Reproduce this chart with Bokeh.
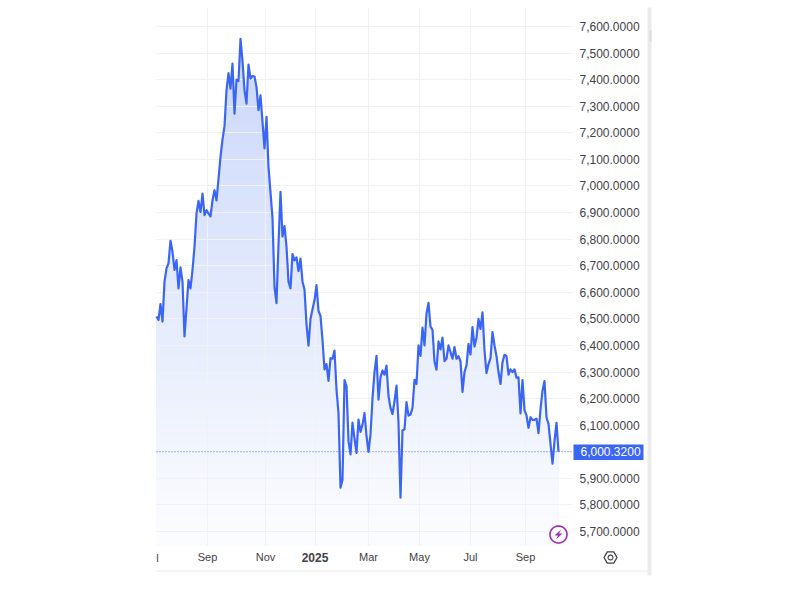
import math
from bokeh.embed import file_html
from bokeh.models import (BoxAnnotation, ColumnDataSource, FixedTicker, Label, LinearAxis,
                          NumeralTickFormatter, PolyAnnotation, Range1d)
from bokeh.plotting import figure
from bokeh.resources import INLINE

values = [
    6509, 6496, 6556, 6490, 6640, 6690, 6709, 6794, 6752, 6684, 6721, 6615, 6694, 6640, 6434, 6540,
    6646, 6615, 6684, 6771, 6896, 6944, 6902, 6971, 6890, 6909, 6896, 6886, 6946, 6984, 6946, 7027,
    7110, 7175, 7225, 7360, 7425, 7366, 7460, 7272, 7400, 7395, 7554, 7470, 7360, 7310, 7457, 7404,
    7414, 7412, 7372, 7285, 7341, 7241, 7141, 7260, 7072, 6975, 6880, 6620, 6559, 6780, 6978, 6810,
    6849, 6771, 6640, 6615, 6744, 6720, 6731, 6680, 6727, 6640, 6610, 6480, 6399, 6500, 6536, 6570,
    6627, 6530, 6511, 6420, 6310, 6330, 6267, 6352, 6350, 6381, 6234, 6145, 5865, 5895, 6270, 6246,
    6040, 5990, 6110, 6050, 5996, 6121, 6075, 6102, 6146, 6060, 6000, 6065, 6200, 6300, 6361, 6196,
    6280, 6306, 6290, 6324, 6210, 6165, 6142, 6190, 6249, 6110, 5827, 6081, 6084, 6187, 6136, 6140,
    6165, 6271, 6255, 6400, 6361, 6467, 6400, 6520, 6560, 6471, 6459, 6340, 6309, 6415, 6385, 6430,
    6341, 6350, 6400, 6375, 6350, 6394, 6350, 6360, 6340, 6225, 6300, 6325, 6406, 6366, 6469, 6396,
    6430, 6500, 6462, 6525, 6381, 6296, 6330, 6352, 6450, 6400, 6360, 6300, 6255, 6337, 6365, 6360,
    6290, 6310, 6300, 6310, 6279, 6280, 6144, 6270, 6156, 6137, 6090, 6130, 6120, 6120, 6125, 6070,
    6160, 6230, 6266, 6130, 6105, 6030, 5955, 6040, 6109, 6000,
]
sessions = list(range(len(values)))
last_price = 6000.32
last_price_label = "6,000.3200"
y_ticks = [5700, 5800, 5900, 6000, 6100, 6200, 6300, 6400, 6500, 6600, 6700, 6800, 6900,
           7000, 7100, 7200, 7300, 7400, 7500, 7600]
month_ticks = [25.5, 54.5, 79.25, 106, 131.5, 157, 184.5]
month_labels = ["Sep", "Nov", "", "Mar", "May", "Jul", "Sep"]
year_tick = 79.25
year_label = "2025"
cut_tick = 0.5
cut_label = "l"

W, H = 660, 582
PX_PER_SESSION = 2.0
PX_PER_UNIT = 0.2658
LEFT_PX, RIGHT_PX, TOP_PX, FLOOR_PX = 156, 572, 7, 545

def to_x(px):
    return (px - LEFT_PX) / PX_PER_SESSION

def to_y(py):
    return 7600 - (py - 26) / PX_PER_UNIT

BLUE = "#3b66f5"
TEXT = "#3f4248"
GRID = "#f1f2f5"
PURPLE = "#9b30b5"
Y_TOP, Y_FLOOR, X_EDGE = to_y(TOP_PX), to_y(FLOOR_PX), to_x(RIGHT_PX)

p = figure(width=W, height=H, output_backend="svg", toolbar_location=None,
           x_range=Range1d(to_x(0), to_x(W)), y_range=Range1d(to_y(H), to_y(0)),
           min_border=0, y_axis_location=None, outline_line_color=None,
           background_fill_color="white")

src = ColumnDataSource(dict(x=sessions, y=values))
TOP_C, BOT_C = (200, 213, 250), (252, 253, 255)
N = 60
for i in range(N):
    t = i / (N - 1)
    lvl = Y_TOP - (Y_TOP - Y_FLOOR) * t
    col = "#%02x%02x%02x" % tuple(round(a + (b - a) * t) for a, b in zip(TOP_C, BOT_C))
    p.varea(x=sessions, y1=[min(v, lvl) for v in values], y2=[Y_FLOOR] * len(values),
            fill_color=col, fill_alpha=1, level="image")

p.line(x=[0, X_EDGE], y=[last_price, last_price], line_color=BLUE, line_width=1,
       line_dash=[1, 2], line_alpha=0.9)
p.line("x", "y", source=src, line_color=BLUE, line_width=2.2, line_join="round")

xg, yg = p.xgrid[0], p.ygrid[0]
xg.ticker = FixedTicker(ticks=month_ticks)
xg.grid_line_color = GRID
xg.cross_bounds = (Y_FLOOR, Y_TOP)
yg.ticker = FixedTicker(ticks=y_ticks)
yg.grid_line_color = GRID
yg.cross_bounds = (0, X_EDGE)

xa = p.xaxis[0]
xa.fixed_location = to_y(537)
xa.ticker = FixedTicker(ticks=month_ticks)
xa.major_label_overrides = {t: l for t, l in zip(month_ticks, month_labels)}
xa.axis_line_color = None
xa.major_tick_line_color = None
xa.minor_tick_line_color = None
xa.major_label_text_font = "Liberation Sans"
xa.major_label_text_font_size = "11px"
xa.major_label_text_color = TEXT
xa.major_label_standoff = 7

ya = LinearAxis(ticker=FixedTicker(ticks=y_ticks), formatter=NumeralTickFormatter(format="0,0.0000"),
                fixed_location=to_x(565))
ya.axis_line_color = None
ya.major_tick_line_color = None
ya.minor_tick_line_color = None
ya.major_label_text_font = "Liberation Sans"
ya.major_label_text_font_size = "12px"
ya.major_label_text_color = TEXT
ya.major_label_standoff = 8
p.add_layout(ya, "right")

def label_bottom(x, text, bold=False):
    p.add_layout(Label(x=x, y=to_y(557), text=text, text_align="center", text_baseline="middle",
                       text_font="Liberation Sans", text_font_size="12px" if bold else "11px",
                       text_font_style="bold" if bold else "normal", text_color=TEXT))

label_bottom(year_tick, year_label, True)
label_bottom(cut_tick, cut_label)

def poly(xs, ys, line=None, fill=None, lw=1.0):
    p.add_layout(PolyAnnotation(xs=[to_x(x) for x in xs], ys=[to_y(y) for y in ys],
                                line_color=line, line_alpha=1, line_width=lw,
                                fill_color=fill, fill_alpha=1 if fill else 0, level="annotation"))

p.add_layout(BoxAnnotation(left=to_x(573), right=to_x(643), bottom=to_y(459.5), top=to_y(444),
                           fill_color=BLUE, fill_alpha=1, line_color=None, level="annotation"))
p.add_layout(Label(x=to_x(580), y=last_price, text=last_price_label, text_baseline="middle",
                   text_font="Liberation Sans", text_font_size="12px", text_color="white",
                   level="annotation"))

poly([156, 648, 648, 156], [570, 570, 571, 571], fill="#ececee")
poly([647, 651, 651, 647], [7, 7, 575, 575], fill="#ececee")
poly([649, 651, 651, 649], [30, 30, 41, 41], fill="#dcdcde")

def circle_pts(cx, cy, r, n=40):
    return ([cx + r * math.cos(2 * math.pi * k / n) for k in range(n)],
            [cy + r * math.sin(2 * math.pi * k / n) for k in range(n)])

hx = [610 + 6.5 * math.cos(2 * math.pi * k / 6) for k in range(6)]
hy = [557 + 6.5 * math.sin(2 * math.pi * k / 6) for k in range(6)]
poly(hx, hy, line=TEXT, lw=1.3)
poly(*circle_pts(610, 557, 2.4), line=TEXT, lw=1.2)

poly(*circle_pts(558, 534, 8.5), line=PURPLE, lw=1.6, fill="white")
poly([560.5, 554, 557.5, 555.5, 562, 558.5], [529, 535, 535, 539, 533, 533], fill=PURPLE)

open("out.html", "w").write(file_html(p, INLINE))
